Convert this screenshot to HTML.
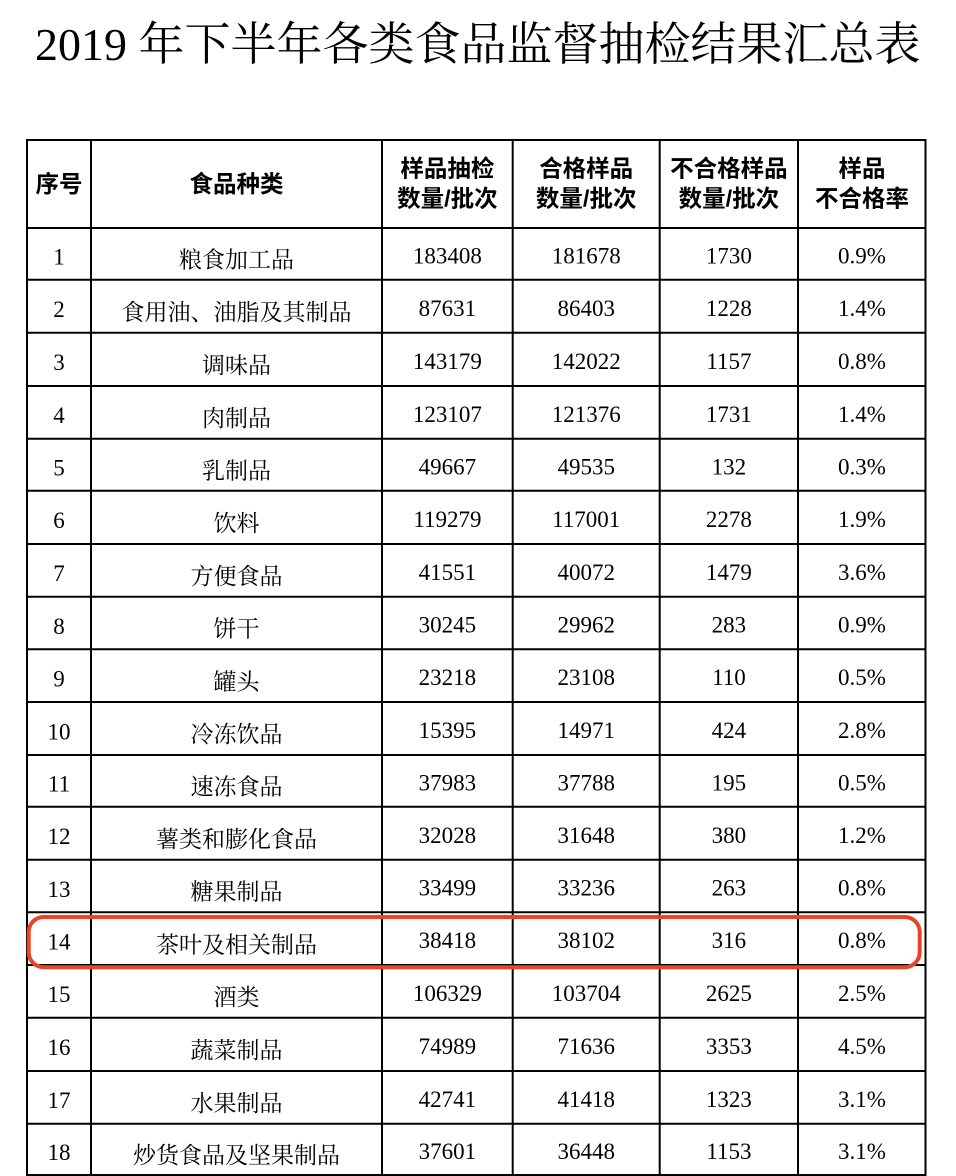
<!DOCTYPE html>
<html>
<head>
<meta charset="utf-8">
<style>
html,body{margin:0;padding:0;background:#fff;}
body{width:956px;height:1176px;overflow:hidden;}
svg{display:block;}
.t{font-family:"Liberation Serif","Noto Serif CJK SC",serif;}
.h{font-family:"Liberation Sans","Noto Sans CJK SC",sans-serif;font-weight:bold;}
.n{font-family:"Liberation Serif",serif;}
.c{font-family:"Liberation Serif","Noto Serif CJK SC",serif;}
</style>
</head>
<body>
<svg width="956" height="1176" viewBox="0 0 956 1176" xmlns="http://www.w3.org/2000/svg">
<rect width="956" height="1176" fill="#fff"/>
<text class="t" x="35" y="60" font-size="46" fill="#000">2019 年下半年各类食品监督抽检结果汇总表</text>

<g stroke="#000" stroke-width="2" fill="none">
<line x1="27" y1="140" x2="27" y2="1176"/>
<line x1="91" y1="140" x2="91" y2="1176"/>
<line x1="382" y1="140" x2="382" y2="1176"/>
<line x1="512.7" y1="140" x2="512.7" y2="1176"/>
<line x1="659.7" y1="140" x2="659.7" y2="1176"/>
<line x1="798" y1="140" x2="798" y2="1176"/>
<line x1="925.5" y1="140" x2="925.5" y2="1176"/>
<line x1="26" y1="140" x2="926.5" y2="140"/>
<line x1="26" y1="228" x2="926.5" y2="228"/>
<line x1="26" y1="279.7" x2="926.5" y2="279.7"/>
<line x1="26" y1="332.7" x2="926.5" y2="332.7"/>
<line x1="26" y1="386" x2="926.5" y2="386"/>
<line x1="26" y1="438.7" x2="926.5" y2="438.7"/>
<line x1="26" y1="490.7" x2="926.5" y2="490.7"/>
<line x1="26" y1="544" x2="926.5" y2="544"/>
<line x1="26" y1="596.7" x2="926.5" y2="596.7"/>
<line x1="26" y1="649.3" x2="926.5" y2="649.3"/>
<line x1="26" y1="702" x2="926.5" y2="702"/>
<line x1="26" y1="755" x2="926.5" y2="755"/>
<line x1="26" y1="806.7" x2="926.5" y2="806.7"/>
<line x1="26" y1="859.7" x2="926.5" y2="859.7"/>
<line x1="26" y1="912.3" x2="926.5" y2="912.3"/>
<line x1="26" y1="965" x2="926.5" y2="965"/>
<line x1="26" y1="1017.7" x2="926.5" y2="1017.7"/>
<line x1="26" y1="1071" x2="926.5" y2="1071"/>
<line x1="26" y1="1123.7" x2="926.5" y2="1123.7"/>
<line x1="26" y1="1175" x2="926.5" y2="1175"/>
</g>

<g class="h" font-size="23.5" fill="#000" text-anchor="middle">
<text x="59" y="192.2">序号</text>
<text x="236.5" y="192.2">食品种类</text>
<text x="447.4" y="176.4">样品抽检</text>
<text x="447.4" y="206.4">数量/批次</text>
<text x="586.2" y="176.4">合格样品</text>
<text x="586.2" y="206.4">数量/批次</text>
<text x="728.9" y="176.4">不合格样品</text>
<text x="728.9" y="206.4">数量/批次</text>
<text x="862" y="176.4">样品</text>
<text x="862" y="206.4">不合格率</text>
</g>

<g class="n" font-size="23" fill="#000" text-anchor="middle">
<text x="59" y="264.6">1</text>
<text x="59" y="317">2</text>
<text x="59" y="370.1">3</text>
<text x="59" y="423.1">4</text>
<text x="59" y="475.5">5</text>
<text x="59" y="528.1">6</text>
<text x="59" y="581.1">7</text>
<text x="59" y="633.8">8</text>
<text x="59" y="686.4">9</text>
<text x="59" y="739.3">10</text>
<text x="59" y="791.6">11</text>
<text x="59" y="844">12</text>
<text x="59" y="896.8">13</text>
<text x="59" y="949.4">14</text>
<text x="59" y="1002.1">15</text>
<text x="59" y="1055.1">16</text>
<text x="59" y="1108.1">17</text>
<text x="59" y="1160.1">18</text>
</g>

<g class="c" font-size="23" fill="#000" text-anchor="middle">
<text x="236.5" y="267.5">粮食加工品</text>
<text x="236.5" y="319.9">食用油、油脂及其制品</text>
<text x="236.5" y="373">调味品</text>
<text x="236.5" y="426">肉制品</text>
<text x="236.5" y="478.4">乳制品</text>
<text x="236.5" y="531">饮料</text>
<text x="236.5" y="584">方便食品</text>
<text x="236.5" y="636.7">饼干</text>
<text x="236.5" y="689.3">罐头</text>
<text x="236.5" y="742.2">冷冻饮品</text>
<text x="236.5" y="794.5">速冻食品</text>
<text x="236.5" y="846.9">薯类和膨化食品</text>
<text x="236.5" y="899.7">糖果制品</text>
<text x="236.5" y="952.3">茶叶及相关制品</text>
<text x="236.5" y="1005">酒类</text>
<text x="236.5" y="1058">蔬菜制品</text>
<text x="236.5" y="1111">水果制品</text>
<text x="236.5" y="1163">炒货食品及坚果制品</text>
</g>

<g class="n" font-size="23" fill="#000" text-anchor="middle">
<text x="447.4" y="263.4">183408</text><text x="586.2" y="263.4">181678</text><text x="728.9" y="263.4">1730</text><text x="862" y="263.4">0.9%</text>
<text x="447.4" y="315.8">87631</text><text x="586.2" y="315.8">86403</text><text x="728.9" y="315.8">1228</text><text x="862" y="315.8">1.4%</text>
<text x="447.4" y="368.9">143179</text><text x="586.2" y="368.9">142022</text><text x="728.9" y="368.9">1157</text><text x="862" y="368.9">0.8%</text>
<text x="447.4" y="421.9">123107</text><text x="586.2" y="421.9">121376</text><text x="728.9" y="421.9">1731</text><text x="862" y="421.9">1.4%</text>
<text x="447.4" y="474.3">49667</text><text x="586.2" y="474.3">49535</text><text x="728.9" y="474.3">132</text><text x="862" y="474.3">0.3%</text>
<text x="447.4" y="526.9">119279</text><text x="586.2" y="526.9">117001</text><text x="728.9" y="526.9">2278</text><text x="862" y="526.9">1.9%</text>
<text x="447.4" y="579.9">41551</text><text x="586.2" y="579.9">40072</text><text x="728.9" y="579.9">1479</text><text x="862" y="579.9">3.6%</text>
<text x="447.4" y="632.6">30245</text><text x="586.2" y="632.6">29962</text><text x="728.9" y="632.6">283</text><text x="862" y="632.6">0.9%</text>
<text x="447.4" y="685.2">23218</text><text x="586.2" y="685.2">23108</text><text x="728.9" y="685.2">110</text><text x="862" y="685.2">0.5%</text>
<text x="447.4" y="738.1">15395</text><text x="586.2" y="738.1">14971</text><text x="728.9" y="738.1">424</text><text x="862" y="738.1">2.8%</text>
<text x="447.4" y="790.4">37983</text><text x="586.2" y="790.4">37788</text><text x="728.9" y="790.4">195</text><text x="862" y="790.4">0.5%</text>
<text x="447.4" y="842.8">32028</text><text x="586.2" y="842.8">31648</text><text x="728.9" y="842.8">380</text><text x="862" y="842.8">1.2%</text>
<text x="447.4" y="895.6">33499</text><text x="586.2" y="895.6">33236</text><text x="728.9" y="895.6">263</text><text x="862" y="895.6">0.8%</text>
<text x="447.4" y="948.2">38418</text><text x="586.2" y="948.2">38102</text><text x="728.9" y="948.2">316</text><text x="862" y="948.2">0.8%</text>
<text x="447.4" y="1000.9">106329</text><text x="586.2" y="1000.9">103704</text><text x="728.9" y="1000.9">2625</text><text x="862" y="1000.9">2.5%</text>
<text x="447.4" y="1053.9">74989</text><text x="586.2" y="1053.9">71636</text><text x="728.9" y="1053.9">3353</text><text x="862" y="1053.9">4.5%</text>
<text x="447.4" y="1106.9">42741</text><text x="586.2" y="1106.9">41418</text><text x="728.9" y="1106.9">1323</text><text x="862" y="1106.9">3.1%</text>
<text x="447.4" y="1158.9">37601</text><text x="586.2" y="1158.9">36448</text><text x="728.9" y="1158.9">1153</text><text x="862" y="1158.9">3.1%</text>
</g>

<rect x="28.7" y="917" width="891" height="50.2" rx="15" ry="15" fill="none" stroke="#e94427" stroke-width="4"/>
</svg>
</body>
</html>
